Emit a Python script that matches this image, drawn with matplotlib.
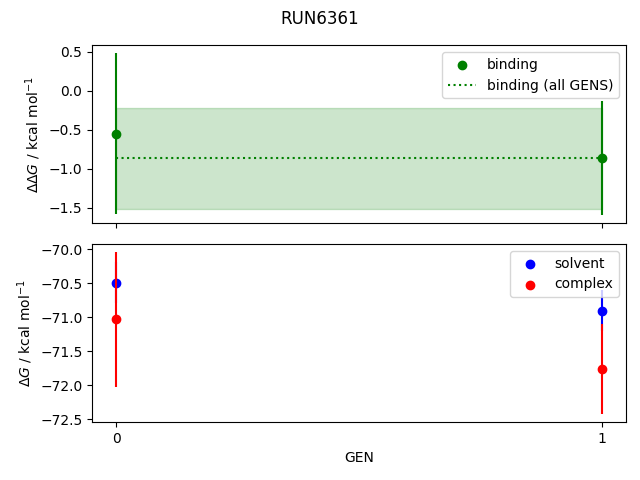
import matplotlib
matplotlib.use("Agg")
import matplotlib.pyplot as plt
import numpy as np

gens = [0, 1]
binding = [-0.55, -0.86]
binding_err = [1.03, 0.73]
binding_all = -0.865
binding_all_err = 0.645
solvent = [-70.49, -70.90]
solvent_err = [0.3, 0.3]
complex_ = [-71.03, -71.76]
complex_err = [0.99, 0.66]

fig, axes = plt.subplots(2, 1, sharex=True, figsize=(6.4, 4.8))
ax = axes[0]
ax.scatter(gens, binding, color="green", label="binding")
ax.errorbar(gens, binding, yerr=binding_err, color="green", ls="none")
ax.hlines(binding_all, gens[0], gens[-1], color="green", ls=":", label="binding (all GENS)")
ax.fill_between(gens, binding_all - binding_all_err, binding_all + binding_all_err,
                color="green", alpha=0.2)
ax.set_ylabel(r"$\Delta\Delta G$ / kcal mol$^{-1}$")
ax.legend()

ax = axes[1]
ax.scatter(gens, solvent, color="blue", label="solvent")
ax.errorbar(gens, solvent, yerr=solvent_err, color="blue", ls="none")
ax.scatter(gens, complex_, color="red", label="complex")
ax.errorbar(gens, complex_, yerr=complex_err, color="red", ls="none")
ax.set_ylabel(r"$\Delta G$ / kcal mol$^{-1}$")
ax.set_xlabel("GEN")
ax.set_xticks(gens)
ax.legend()

fig.suptitle("RUN6361")
fig.subplots_adjust(left=0.144, right=0.978, top=0.906, bottom=0.121, hspace=0.118)
fig.savefig("out.png", dpi=100)
